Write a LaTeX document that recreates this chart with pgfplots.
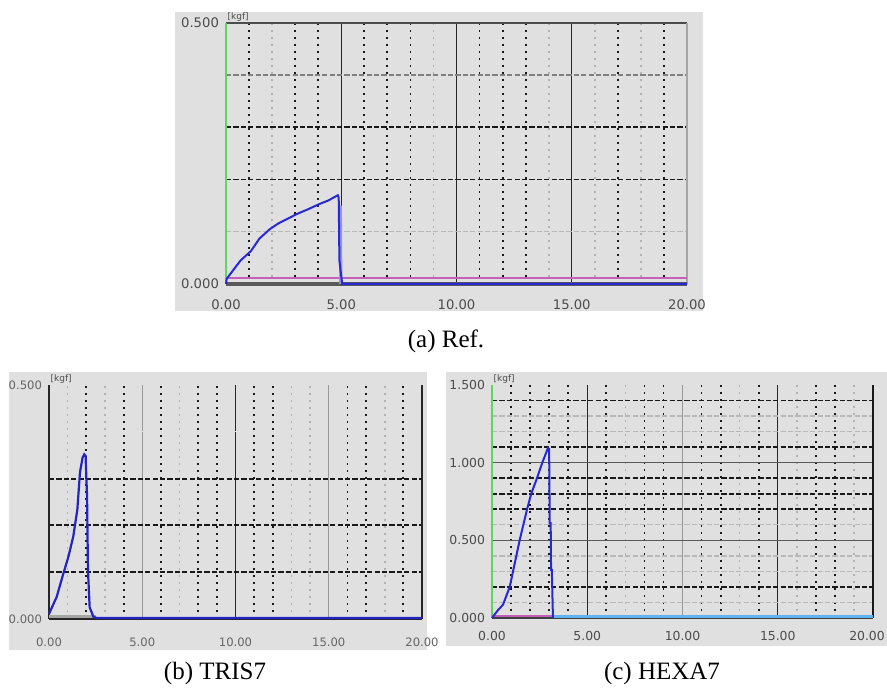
\documentclass[border=0pt]{standalone}
\usepackage{pgfplots}
\pgfplotsset{compat=1.18}
\usepackage{fontspec}
\setmainfont{Liberation Serif}
\newfontfamily\tickfont{DejaVu Sans}

\definecolor{panelgray}{RGB}{224,224,224}
\definecolor{curveblue}{RGB}{40,40,215}
\definecolor{curvemag}{RGB}{195,95,185}
\definecolor{axgreen}{RGB}{95,215,95}
\definecolor{baseblue}{RGB}{95,180,240}

\tikzset{
  dotB/.style={black!90, line width=0.9pt, dash pattern=on 1.1pt off 2.4pt},
  dotL/.style={black!30, line width=0.8pt, dash pattern=on 1.1pt off 2.4pt},
  dashB/.style={black!90, line width=0.9pt, dash pattern=on 2.6pt off 1.1pt},
  dashL/.style={black!28, line width=0.7pt, dash pattern=on 2.6pt off 1.1pt},
  dashM/.style={black!50, line width=0.7pt, dash pattern=on 2.6pt off 1.1pt},
  solidB/.style={black!85, line width=0.7pt},
  solidG/.style={black!40, line width=0.7pt},
}

\pgfplotsset{
  panel/.style={
    scale only axis, anchor=south west, clip=false,
    axis line style={draw=none}, tick style={draw=none},
    xmin=0, xmax=20, ymin=0,
    xtick={0,5,10,15,20},
    xticklabels={0.00,5.00,10.00,15.00,20.00},
  },
}

\newcommand\unitlabel{\node[anchor=south west, inner sep=0.6pt, font=\tickfont\fontsize{4.5}{5}\selectfont, text=black!70] at (rel axis cs:0,1) {[kgf]};}

\begin{document}
\begin{tikzpicture}
\fill[white] (0,0) rectangle (443.5pt,344.5pt);
\useasboundingbox (0,0) rectangle (443.5pt,344.5pt);

% panel backgrounds
\fill[panelgray] (87.5pt,189pt) rectangle (351.5pt,338.5pt);
\fill[panelgray] (4.5pt,19.5pt) rectangle (213.5pt,158.5pt);
\fill[panelgray] (223pt,21.5pt) rectangle (443.5pt,158.5pt);

% (a) Ref.
\begin{axis}[panel, at={(113pt,202.5pt)}, width=230.5pt, height=130.5pt,
    ymax=0.5, ytick={0,0.5}, yticklabels={0.000,0.500},
    ticklabel style={font=\tickfont\fontsize{6.6}{7}\selectfont, text=black!70},
    xticklabel style={yshift=-4.5pt}]
  \pgfplotsinvokeforeach{1,3,4,6,7,8,11,12,13,17,19}{\draw[dotB] (axis cs:#1,0) -- (axis cs:#1,0.5);}
  \pgfplotsinvokeforeach{2,9,14,16,18}{\draw[dotL] (axis cs:#1,0) -- (axis cs:#1,0.5);}
  \pgfplotsinvokeforeach{5,10,15}{\draw[solidB] (axis cs:#1,0) -- (axis cs:#1,0.5);}
  \pgfplotsinvokeforeach{0.2,0.3}{\draw[dashB] (axis cs:0,#1) -- (axis cs:20,#1);}
  \draw[dashL] (axis cs:0,0.1) -- (axis cs:20,0.1);
  \draw[dashM] (axis cs:0,0.4) -- (axis cs:20,0.4);
  \draw[black!70, line width=0.8pt] (axis cs:0,0.5) -- (axis cs:20,0.5);
  \draw[black!35, line width=0.6pt] (axis cs:20,0) -- (axis cs:20,0.5);
  \draw[black!65, line width=1.6pt] (axis cs:0,0) -- (axis cs:20,0);
  \draw[axgreen, line width=1.2pt] (axis cs:0,0) -- (axis cs:0,0.5);
  \addplot[curvemag, line width=0.9pt] coordinates {(0,0.0115) (20,0.0115)};
  \addplot[curveblue!50, line width=1.6pt] coordinates {(4.96,0.15) (4.98,0)};
  \addplot[curveblue, line width=1pt] coordinates {
    (0.00,0.000) (0.03,0.010) (0.63,0.045) (1.08,0.063) (1.45,0.087)
    (1.90,0.105) (2.27,0.116) (2.72,0.126) (3.07,0.134) (3.55,0.143)
    (4.04,0.153) (4.44,0.160) (4.85,0.170) (4.89,0.165) (4.92,0.045)
    (5.04,0.000) (20.00,0.000)};
  \unitlabel
\end{axis}

% (b) TRIS7
\begin{axis}[panel, at={(24.5pt,35pt)}, width=186.5pt, height=117pt,
    ymax=0.5, ytick={0,0.5}, yticklabels={0.000,0.500},
    ticklabel style={font=\tickfont\fontsize{5.8}{6}\selectfont, text=black!60},
    xticklabel style={yshift=-6pt}]
  \pgfplotsinvokeforeach{2,4,6,8,9,11,12,16,17,19}{\draw[dotB] (axis cs:#1,0) -- (axis cs:#1,0.5);}
  \pgfplotsinvokeforeach{1,3,7,13,14,18}{\draw[dotL] (axis cs:#1,0) -- (axis cs:#1,0.5);}
  \pgfplotsinvokeforeach{5,15}{\draw[solidG] (axis cs:#1,0) -- (axis cs:#1,0.5);}
  \draw[solidB] (axis cs:10,0) -- (axis cs:10,0.5);
  \pgfplotsinvokeforeach{0.1,0.2,0.3}{\draw[dashB] (axis cs:0,#1) -- (axis cs:20,#1);}
  \draw[black!12, line width=0.6pt, dash pattern=on 2.6pt off 1.1pt] (axis cs:0,0.4) -- (axis cs:20,0.4);
  \draw[black!85, line width=0.8pt] (axis cs:0,0) -- (axis cs:0,0.5);
  \draw[black!85, line width=0.8pt] (axis cs:20,0) -- (axis cs:20,0.5);
  \draw[black!85, line width=1.4pt] (axis cs:0,0) -- (axis cs:20,0);
  \addplot[black!35, line width=1.4pt] coordinates {(0,0.006) (2.5,0.006)};
  \addplot[curveblue!90!black, line width=1.1pt] coordinates {
    (0.00,0.011) (0.41,0.047) (0.77,0.097) (1.04,0.133) (1.30,0.176)
    (1.52,0.234) (1.66,0.313) (1.80,0.345) (1.89,0.352) (1.96,0.349)
    (2.04,0.263) (2.09,0.104) (2.18,0.025) (2.38,0.005) (2.55,0.002)
    (20.00,0.002)};
  \unitlabel
\end{axis}

% (c) HEXA7
\begin{axis}[panel, at={(246pt,35.5pt)}, width=190.5pt, height=116.5pt,
    ymax=1.5, ytick={0,0.5,1,1.5}, yticklabels={0.000,0.500,1.000,1.500},
    xticklabels={0.00,5.00,10.00,15.00,20.00\hspace*{6pt}},
    ticklabel style={font=\tickfont\fontsize{6.2}{7}\selectfont, text=black!70},
    xticklabel style={yshift=-3pt}]
  \pgfplotsinvokeforeach{1,2,4,6,8,9,11,12,14,17,18}{\draw[dotB] (axis cs:#1,0) -- (axis cs:#1,1.5);}
  \draw[dotB, line width=1.2pt] (axis cs:3,0) -- (axis cs:3,1.5);
  \pgfplotsinvokeforeach{7,13,16,19}{\draw[dotL] (axis cs:#1,0) -- (axis cs:#1,1.5);}
  \pgfplotsinvokeforeach{5,15}{\draw[solidB] (axis cs:#1,0) -- (axis cs:#1,1.5);}
  \draw[solidG] (axis cs:10,0) -- (axis cs:10,1.5);
  \pgfplotsinvokeforeach{0.2,0.7,0.8,0.9,1.1,1.4}{\draw[dashB] (axis cs:0,#1) -- (axis cs:20,#1);}
  \pgfplotsinvokeforeach{0.1,0.3,0.4,0.6,1.2,1.3}{\draw[dashL] (axis cs:0,#1) -- (axis cs:20,#1);}
  \pgfplotsinvokeforeach{0.5,1.0}{\draw[black!65, line width=0.7pt] (axis cs:0,#1) -- (axis cs:20,#1);}
  \draw[black!90, line width=1.2pt] (axis cs:20,0) -- (axis cs:20,1.5);
  \draw[black!75, line width=1.2pt] (axis cs:0,0) -- (axis cs:20,0);
  \draw[axgreen, line width=1pt] (axis cs:0,0) -- (axis cs:0,1.5);
  \addplot[curvemag, line width=1pt] coordinates {(0,0.01) (3.2,0.01)};
  \addplot[baseblue, line width=1.3pt] coordinates {(3.2,0.008) (20,0.008)};
  \addplot[curveblue, line width=1pt] coordinates {
    (0.00,0.000) (0.31,0.050) (0.58,0.086) (0.93,0.200) (1.45,0.500)
    (1.84,0.700) (2.06,0.800) (2.36,0.900) (2.64,1.000) (2.94,1.095)
    (3.00,1.085) (3.03,0.610) (3.08,0.610) (3.10,0.310) (3.14,0.310)
    (3.20,0.000)};
  \unitlabel
\end{axis}

% captions
\node[font=\fontsize{12.5}{14}\selectfont] at (223pt,174pt) {(a) Ref.};
\node[font=\fontsize{12.5}{14}\selectfont] at (107.5pt,8pt) {(b) TRIS7};
\node[font=\fontsize{12.5}{14}\selectfont] at (331pt,8pt) {(c) HEXA7};
\end{tikzpicture}
\end{document}
